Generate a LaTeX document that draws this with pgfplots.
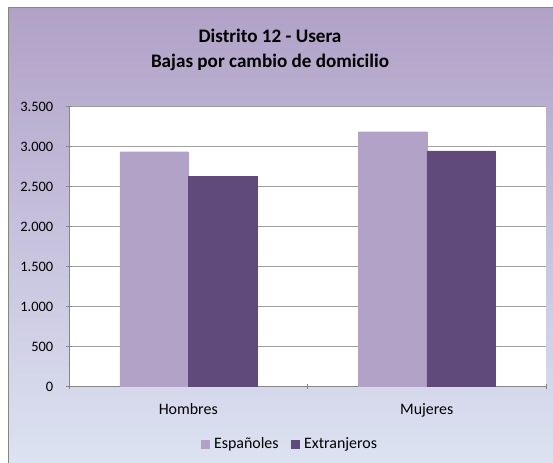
\documentclass[border=0pt]{standalone}
\usepackage{pgfplots}
\pgfplotsset{compat=1.18}
\usepackage{fontspec}
\setmainfont{Carlito}

\definecolor{espcol}{RGB}{179,162,199}
\definecolor{extcol}{RGB}{96,74,123}
\definecolor{axisgray}{RGB}{134,134,134}
\definecolor{gridgray}{RGB}{160,160,160}
\definecolor{bgtop}{RGB}{177,161,199}
\definecolor{bgmid}{RGB}{197,210,237}
\definecolor{bgbot}{RGB}{221,228,243}

\begin{document}
\begin{tikzpicture}
\useasboundingbox (0,0) rectangle (553bp,463bp);
% chart area background
\shade[top color=bgtop, middle color=bgmid, bottom color=bgbot]
  (8bp,-10bp) rectangle (570bp,455bp);
\draw[axisgray, line width=1bp] (8bp,-10bp) -- (8bp,455bp) -- (570bp,455bp);

\begin{axis}[
  at={(69bp,76bp)}, anchor=south west,
  scale only axis,
  width=477bp, height=280bp,
  ybar=0pt, bar width=68.5bp,
  xmin=-0.5, xmax=1.5,
  ymin=0, ymax=3500,
  xtick={0,1},
  xticklabels={Hombres,Mujeres},
  ytick={0,500,...,3500},
  extra x ticks={-0.5,0.5,1.5},
  extra x tick labels={},
  extra x tick style={grid=none, xtick style={draw=axisgray, line width=1bp}},
  xtick style={draw=none},
  ytick style={draw=axisgray, line width=1bp},
  tick align=outside,
  major tick length=5bp,
  axis x line=bottom, axis y line=left,
  axis line style={-, draw=axisgray, line width=1bp},
  ymajorgrids,
  grid style={draw=gridgray, line width=1bp},
  axis background/.style={fill=white},
  /pgf/number format/.cd, 1000 sep={.}, assume math mode=true,
  /pgfplots/.cd,
  yticklabel style={font=\fontsize{14.5}{16}\selectfont, anchor=east, inner sep=0pt, xshift=-13bp},
  xticklabel style={font=\fontsize{16}{18}\selectfont, anchor=base, inner sep=0pt, yshift=-25bp},
  legend style={at={(axis description cs:0.463,-0.203)}, anchor=center,
    draw=none, fill=none, font=\fontsize{16}{18}\selectfont,
    legend columns=2, /tikz/every even column/.append style={column sep=10bp}},
  legend image code/.code={\fill[#1] (0bp,-4bp) rectangle (8bp,4bp); \path (11bp,0bp);},
]
\addplot[fill=espcol, draw=espcol] coordinates {(0,2941) (1,3191)};
\addplot[fill=extcol, draw=extcol] coordinates {(0,2637) (1,2950)};
\legend{Españoles,Extranjeros}
\end{axis}

\node[font=\fontsize{19.2}{22}\selectfont\bfseries] at (270bp,427bp) {Distrito 12 - Usera};
\node[font=\fontsize{19.2}{22}\selectfont\bfseries] at (270bp,401bp) {Bajas por cambio de domicilio};
\end{tikzpicture}
\end{document}
